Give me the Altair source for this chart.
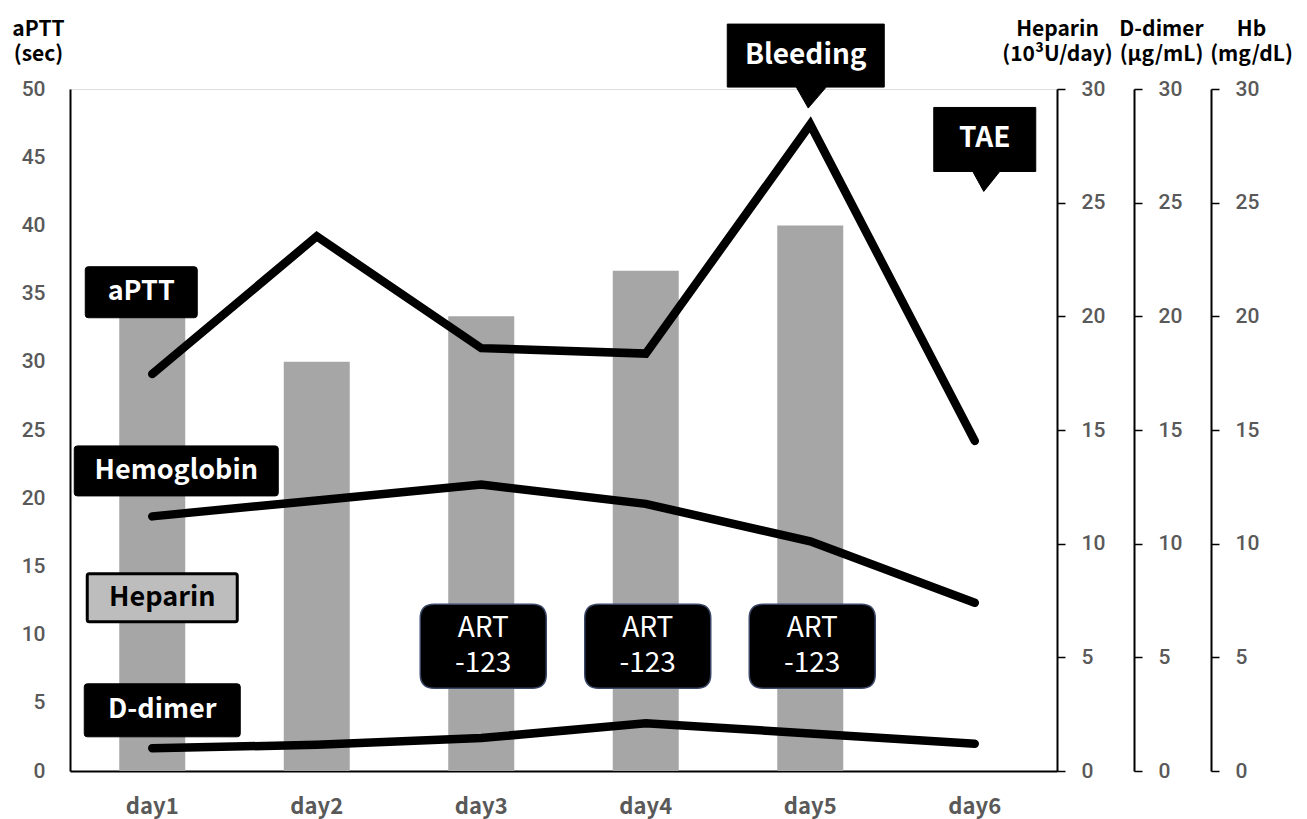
import altair as alt
import pandas as pd

# ---------------- data ----------------
days = ["day1", "day2", "day3", "day4", "day5", "day6"]
aptt_sec = [29.1, 39.2, 31.0, 30.6, 47.4, 24.2]          # left axis (sec)
heparin_kU = [20, 18, 20, 22, 24, None]                   # 10^3 U/day
hemoglobin = [11.2, 11.9, 12.6, 11.75, 10.1, 7.4]         # mg/dL (Hb axis)
d_dimer = [1.0, 1.15, 1.45, 2.1, 1.65, 1.2]               # ug/mL

# annotation anchors (in aPTT-axis units)
series_labels = ["aPTT", "Hemoglobin", "Heparin", "D-dimer"]
series_label_days = ["day1", "day1", "day1", "day1"]
series_label_levels = [35.1, 22.0, 12.7, 4.45]

event_labels = ["Bleeding", "TAE"]
event_days = ["day5", "day6"]
event_levels = [52.45, 46.3]

drug_labels = ["ART\n-123", "ART\n-123", "ART\n-123"]
drug_days = ["day3", "day4", "day5"]
drug_levels = [9.15, 9.15, 9.15]

# ---------------- style ----------------
FONT = "Noto Sans CJK JP"
NUMFONT = "Roboto"
GRAY_TXT = "#595959"
W, H = 987, 682

df = pd.DataFrame({"day": days, "aptt": aptt_sec, "heparin": heparin_kU,
                   "hb": hemoglobin, "dd": d_dimer})

x_enc = alt.X("day:N", sort=days,
              scale=alt.Scale(paddingInner=0, paddingOuter=0),
              axis=alt.Axis(title=None, labelAngle=0, ticks=False, tickSize=0,
                            domainColor="black", domainWidth=2,
                            labelFont=FONT, labelFontSize=22, labelFontWeight="bold",
                            labelColor=GRAY_TXT, labelPadding=25))

TITLE_KW = dict(titleAngle=0, titleAlign="center", titleBaseline="top", titleY=-71,
                titleFont=FONT, titleFontSize=21, titleFontWeight="bold",
                titleColor="black", titleLineHeight=25)


def right_axis(title, offset, title_dx):
    return alt.Axis(orient="right", offset=offset, values=list(range(0, 31, 5)),
                    grid=False, domainColor="black", domainWidth=2,
                    tickColor="black", tickWidth=1.5, tickSize=8,
                    labelFont=NUMFONT, labelFontSize=21, labelFontWeight=500,
                    labelColor=GRAY_TXT, labelPadding=16,
                    title=title, titleX=title_dx, **TITLE_KW)


bars = alt.Chart(df).mark_bar(color="#a6a6a6", width=66).encode(
    x=x_enc,
    y=alt.Y("heparin:Q", scale=alt.Scale(domain=[0, 30]),
            axis=right_axis(["Heparin", "(10³U/day)"], 0, 0)))

line_style = dict(color="black", strokeWidth=8.5, strokeCap="round", strokeJoin="miter")

aptt_line = alt.Chart(df).mark_line(**line_style).encode(
    x=x_enc,
    y=alt.Y("aptt:Q", scale=alt.Scale(domain=[0, 50]),
            axis=alt.Axis(orient="left", values=list(range(0, 51, 5)), grid=False,
                          ticks=False, tickSize=0, domainColor="black", domainWidth=2,
                          labelFont=NUMFONT, labelFontSize=21, labelFontWeight=500,
                          labelColor=GRAY_TXT, labelPadding=25,
                          title=["aPTT", "(sec)"], titleX=-32, **TITLE_KW)))

hb_line = alt.Chart(df).mark_line(**line_style).encode(
    x=x_enc,
    y=alt.Y("hb:Q", scale=alt.Scale(domain=[0, 30]),
            axis=right_axis(["Hb", "(mg/dL)"], 154, 40)))

dd_line = alt.Chart(df).mark_line(**line_style).encode(
    x=x_enc,
    y=alt.Y("dd:Q", scale=alt.Scale(domain=[0, 30]),
            axis=right_axis(["D-dimer", "(μg/mL)"], 77, 27)))


def box_path(w, h, r=0.0, tail=None):
    s = w / 2.0

    def X(v):
        return round(v / s, 4)
    hw, hh = w / 2.0, h / 2.0
    p = [f"M{X(-hw + r)},{X(-hh)}", f"H{X(hw - r)}"]
    if r:
        p.append(f"Q{X(hw)},{X(-hh)} {X(hw)},{X(-hh + r)}")
    p.append(f"V{X(hh - r)}")
    if r:
        p.append(f"Q{X(hw)},{X(hh)} {X(hw - r)},{X(hh)}")
    if tail:
        b0, b1, tx, ty = tail
        p += [f"H{X(b1)}", f"L{X(tx)},{X(ty)}", f"L{X(b0)},{X(hh)}"]
    p.append(f"H{X(-hw + r)}")
    if r:
        p.append(f"Q{X(-hw)},{X(hh)} {X(-hw)},{X(hh - r)}")
    p.append(f"V{X(-hh + r)}")
    if r:
        p.append(f"Q{X(-hw)},{X(-hh)} {X(-hw + r)},{X(-hh)}")
    p.append("Z")
    return " ".join(p)


ann_y = alt.Y("level:Q", scale=alt.Scale(domain=[0, 50]), axis=None)


def annotation(texts, dys, levels, w, h, r=0.0, tail=None, fill="black", stroke="black",
               sw=1.0, dx=0, txt_color="white", fsize=27, fweight="bold", line_h=None,
               n_lines=1):
    d = pd.DataFrame({"day": dys, "level": levels, "label": texts})
    box = alt.Chart(d).mark_point(
        shape=box_path(w, h, r, tail), size=w * w, fill=fill, stroke=stroke,
        strokeWidth=sw, opacity=1, fillOpacity=1, strokeOpacity=1, xOffset=dx
    ).encode(x=x_enc, y=ann_y)
    tkw = dict(font=FONT, fontSize=fsize, fontWeight=fweight, color=txt_color,
               align="center", baseline="middle", xOffset=dx, lineBreak="\n")
    if line_h:
        tkw["lineHeight"] = line_h
        tkw["yOffset"] = -(n_lines - 1) * line_h / 2.0
    txt = alt.Chart(d).mark_text(**tkw).encode(x=x_enc, y=ann_y, text="label:N")
    return [box, txt]


layers = []
# series labels
layers += annotation([series_labels[0]], [series_label_days[0]], [series_label_levels[0]],
                     112, 51, r=3, dx=-11)
layers += annotation([series_labels[1]], [series_label_days[1]], [series_label_levels[1]],
                     204, 50, r=3, dx=24)
layers += annotation([series_labels[2]], [series_label_days[2]], [series_label_levels[2]],
                     150, 48, r=2, dx=10, fill="#bdbdbd", stroke="black", sw=3,
                     txt_color="black")
layers += annotation([series_labels[3]], [series_label_days[3]], [series_label_levels[3]],
                     156, 53, r=3, dx=10)
# event call-outs
layers += annotation([event_labels[0]], [event_days[0]], [event_levels[0]],
                     157, 63, tail=(-9.5, 20.5, 2.5, 52.5), dx=-4.5, fsize=28)
layers += annotation([event_labels[1]], [event_days[1]], [event_levels[1]],
                     102, 64, tail=(-12, 15, -1, 52), dx=10, fsize=28)
# drug boxes
layers += annotation(drug_labels, drug_days, drug_levels, 126, 84, r=14,
                     stroke="#3a4766", sw=1.5, dx=2, fsize=28, fweight="normal",
                     line_h=35, n_lines=2)

chart = alt.layer(bars, aptt_line, hb_line, dd_line, *layers).resolve_scale(
    y="independent"
).properties(
    width=W, height=H,
    autosize=alt.AutoSizeParams(type="none"),
    padding={"left": 62, "top": 81, "right": 241, "bottom": 48},
).configure_view(stroke=None).configure(background="white")

chart.save("out.html", embed_options={"renderer": "svg", "actions": False})
